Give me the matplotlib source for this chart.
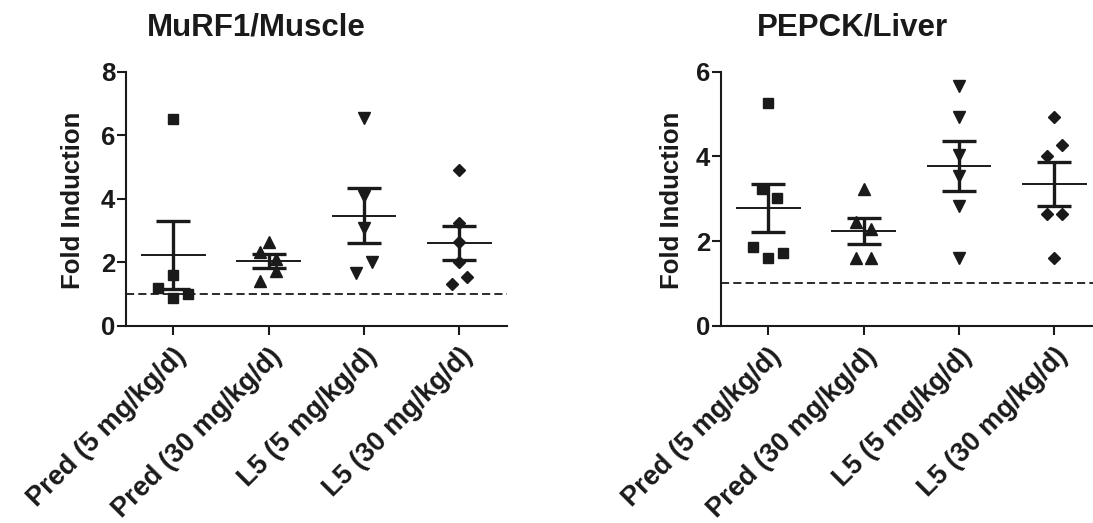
import numpy as np
import matplotlib
matplotlib.use("Agg")
import matplotlib.pyplot as plt

plt.rcParams['font.family'] = ['Liberation Sans', 'DejaVu Sans']
plt.rcParams['font.weight'] = 'bold'

# ---------------- data ----------------
categories = ["Pred (5 mg/kg/d)", "Pred (30 mg/kg/d)", "L5 (5 mg/kg/d)", "L5 (30 mg/kg/d)"]

murf1_pred5 = [6.50, 1.60, 1.20, 0.87, 1.00]
murf1_pred30 = [2.65, 2.33, 2.10, 1.73, 1.41]
murf1_l5_5 = [6.53, 4.10, 3.07, 2.00, 1.65]
murf1_l5_30 = [4.90, 3.25, 2.65, 2.02, 1.54, 1.31]

pepck_pred5 = [5.27, 3.24, 3.02, 1.85, 1.72, 1.61]
pepck_pred30 = [3.24, 2.44, 2.28, 1.61, 1.61]
pepck_l5_5 = [5.67, 4.94, 4.03, 3.54, 2.83, 1.61]
pepck_l5_30 = [4.92, 4.28, 4.00, 2.64, 2.64, 1.61]

murf1_yticks = [0, 2, 4, 6, 8]
pepck_yticks = [0, 2, 4, 6]
baseline = 1.0

# horizontal scatter offsets (point spreading within a column)
murf1_jitter = [[0, 0, -0.165, 0, 0.157],
                [0, -0.087, 0.08, 0.08, -0.087],
                [0, 0, 0, 0.087, -0.087],
                [0, 0, 0, 0, 0.08, -0.08]]
pepck_jitter = [[0, -0.063, 0.087, -0.157, 0.157, 0],
                [0, -0.084, 0.08, -0.084, 0.08],
                [0, 0, 0, 0, 0, 0],
                [0, 0.077, -0.08, -0.08, 0.077, 0]]

markers = ['s', '^', 'v', 'D']
msizes = [7.5, 8, 8, 6.2]
INK = '#1a1a1a'

fig = plt.figure(figsize=(10.93, 5.23), dpi=100)
ax1 = fig.add_axes([0.1150, 0.3772, 0.3489, 0.4857])
ax2 = fig.add_axes([0.6594, 0.3772, 0.3489, 0.4857])


def draw(ax, groups, jitter, yticks, title, title_x):
    for i, (vals, jit) in enumerate(zip(groups, jitter)):
        vals = np.asarray(vals, dtype=float)
        xs = i + np.asarray(jit)
        ax.plot(xs, vals, linestyle='none', marker=markers[i], ms=msizes[i],
                color=INK, mec=INK, zorder=3, clip_on=False)
        mean = vals.mean()
        sem = vals.std(ddof=1) / np.sqrt(len(vals))
        ax.hlines(mean, i - 0.34, i + 0.34, color=INK, lw=1.4, zorder=4)
        ax.errorbar([i], [mean], yerr=[sem], fmt='none', ecolor=INK,
                    elinewidth=2.4, capsize=12, capthick=2.4, zorder=4)
    ax.axhline(baseline, color=INK, lw=1.3, linestyle=(0, (4.5, 2.3)), zorder=2)
    ax.set_xlim(-0.5, 3.5)
    ax.set_ylim(yticks[0], yticks[-1])
    ax.set_yticks(yticks)
    ax.set_yticklabels([str(t) for t in yticks], fontsize=18.5, fontweight='bold', color=INK)
    ax.set_xticks(range(len(categories)))
    ax.set_xticklabels(categories, rotation=45, ha='right', va='top',
                       rotation_mode='anchor', fontsize=19.5, fontweight='bold', color=INK)
    for s in ['top', 'right']:
        ax.spines[s].set_visible(False)
    for s in ['left', 'bottom']:
        ax.spines[s].set_linewidth(1.5)
        ax.spines[s].set_color(INK)
    ax.tick_params(axis='both', length=6.5, width=1.5, color=INK)
    ax.tick_params(axis='y', pad=1)
    ax.tick_params(axis='x', pad=6)
    fig.text(title_x, 1 - 27 / 523, title, ha='center', va='center',
             fontsize=22.5, fontweight='bold', color=INK)


draw(ax1, [murf1_pred5, murf1_pred30, murf1_l5_5, murf1_l5_30], murf1_jitter,
     murf1_yticks, "MuRF1/Muscle", 256 / 1093)
draw(ax2, [pepck_pred5, pepck_pred30, pepck_l5_5, pepck_l5_30], pepck_jitter,
     pepck_yticks, "PEPCK/Liver", 852 / 1093)

fig.text(73 / 1093, 1 - 200 / 523, "Fold Induction", rotation=90, ha='center',
         va='center', fontsize=18.5, fontweight='bold', color=INK)
fig.text(672 / 1093, 1 - 200 / 523, "Fold Induction", rotation=90, ha='center',
         va='center', fontsize=18.5, fontweight='bold', color=INK)

fig.savefig("out.png", dpi=100)
